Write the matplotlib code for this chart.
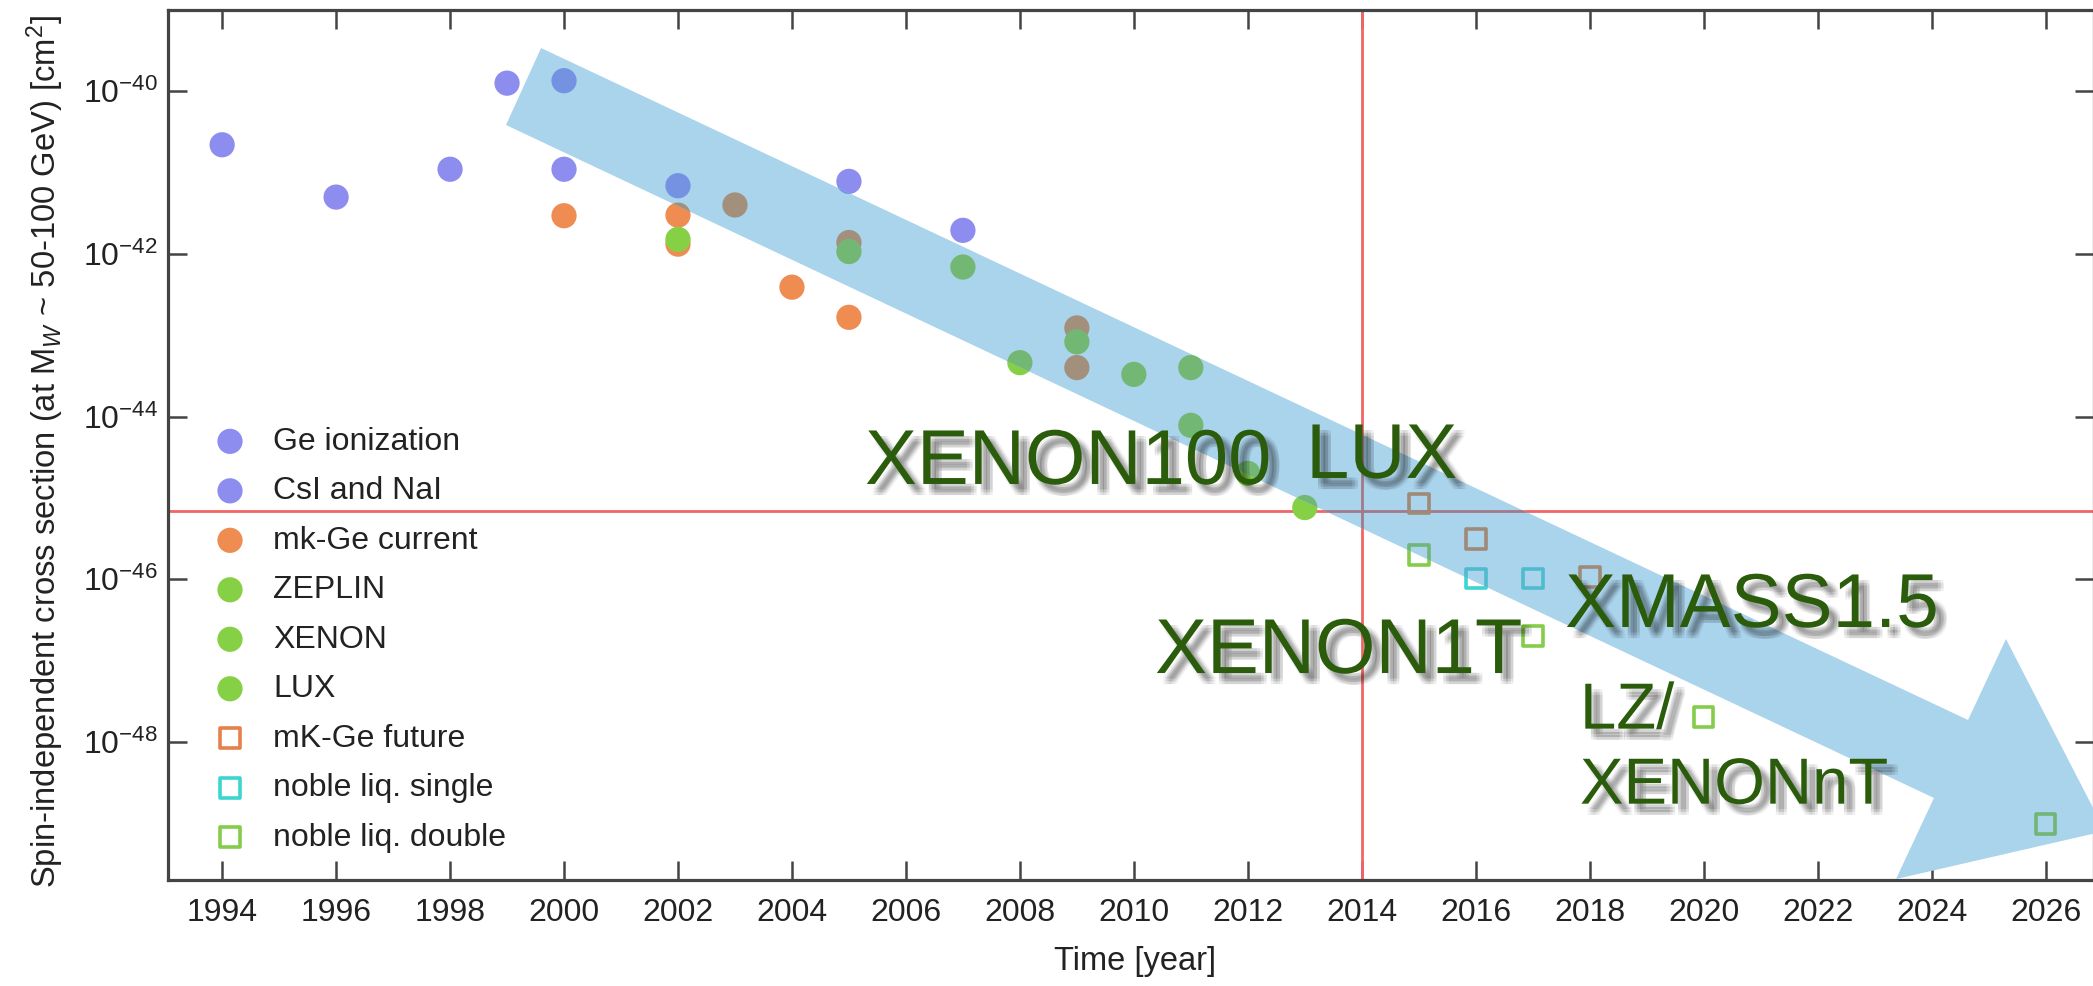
import matplotlib
matplotlib.use('Agg')
import numpy as np
import matplotlib.pyplot as plt
import matplotlib.patheffects as pe
from matplotlib.patches import Polygon
from matplotlib.colors import to_rgb
from matplotlib.ticker import FuncFormatter, NullLocator

plt.rcParams['font.family'] = ['Liberation Sans', 'DejaVu Sans']
plt.rcParams['mathtext.fontset'] = 'custom'
plt.rcParams['mathtext.rm'] = 'Liberation Sans'
plt.rcParams['mathtext.it'] = 'Liberation Sans:italic'
plt.rcParams['mathtext.bf'] = 'Liberation Sans:bold'

# cross sections in cm^2
ge_years = [1994, 1996, 1998, 2000, 2002]
ge_sigma = [2.2e-41, 5.0e-42, 1.1e-41, 1.1e-41, 6.9e-42]
csi_years = [1999, 2000, 2005, 2007]
csi_sigma = [1.26e-40, 1.35e-40, 7.8e-42, 1.95e-42]
mkge_years = [2000, 2002, 2002, 2003, 2004, 2005, 2005, 2009, 2009]
mkge_sigma = [2.95e-42, 3.0e-42, 1.32e-42, 4.0e-42, 3.9e-43, 1.38e-42, 1.66e-43, 1.23e-43, 4.0e-44]
zeplin_years = [2002, 2005, 2007, 2009, 2011]
zeplin_sigma = [1.51e-42, 1.07e-42, 6.9e-43, 8.3e-44, 4.0e-44]
xenon_years = [2008, 2010, 2011, 2012]
xenon_sigma = [4.6e-44, 3.3e-44, 7.8e-45, 2.0e-45]
lux_years = [2013]
lux_sigma = [7.6e-46]
mkge_fut_years = [2015, 2016, 2018]
mkge_fut_sigma = [8.5e-46, 3.1e-46, 1.07e-46]
single_years = [2016, 2017]
single_sigma = [1.02e-46, 1.02e-46]
double_years = [2015, 2017, 2020, 2026]
double_sigma = [2.0e-46, 2.0e-47, 2.0e-48, 9.8e-50]

now_year = 2014
now_sigma = 6.8e-46

labels = ['Ge ionization', 'CsI and NaI', 'mk-Ge current', 'ZEPLIN', 'XENON', 'LUX',
          'mK-Ge future', 'noble liq. single', 'noble liq. double']
colors = ['#8d8df0', '#8d8df0', '#ee8c52', '#86d046', '#86d046', '#86d046',
          '#e8804a', '#3cd6d0', '#84cc4a']
years = [ge_years, csi_years, mkge_years, zeplin_years, xenon_years, lux_years,
         mkge_fut_years, single_years, double_years]
sigmas = [ge_sigma, csi_sigma, mkge_sigma, zeplin_sigma, xenon_sigma, lux_sigma,
          mkge_fut_sigma, single_sigma, double_sigma]
filled = [True] * 6 + [False] * 3

arrow_color = '#aad3ec'


def under_arrow(c):
    # the arrow in the slide tints whatever lies below it
    a = np.array(to_rgb(arrow_color))
    return tuple(0.7 * np.array(to_rgb(c)) * a + 0.3 * a)


fig = plt.figure(figsize=(20.93, 9.86), dpi=100)
ax = fig.add_axes([168 / 2093, 106 / 986, 1926 / 2093, 870 / 986])

ax.set_yscale('log')
ax.set_xlim(1993.05, 2026.85)
ax.set_ylim(10 ** -49.7, 1e-39)

# arrow outline, axes fraction
arrow_pts = [(0.1937, 0.9563), (0.9346, 0.1839), (0.9543, 0.2770), (1.0057, 0.0563),
             (0.8972, 0.0011), (0.9169, 0.0943), (0.1755, 0.8678)]
arrow = Polygon(arrow_pts, closed=True, transform=ax.transAxes,
                facecolor=arrow_color, edgecolor='none', zorder=4)
ax.add_patch(arrow)

for layer in ('plain', 'shaded'):
    z = 3 if layer == 'plain' else 5
    for lab, x, y, c, f in zip(labels, years, sigmas, colors, filled):
        col = c if layer == 'plain' else under_arrow(c)
        if f:
            sc = ax.scatter(x, y, s=330, marker='o', color=col, edgecolors='none',
                            zorder=z, label=lab if layer == 'plain' else None)
        else:
            sc = ax.scatter(x, y, s=200, marker='s', facecolors='none', edgecolors=col,
                            linewidths=2.6, zorder=z, label=lab if layer == 'plain' else None)
        if layer == 'shaded':
            sc.set_clip_path(arrow)
    red = '#f06666' if layer == 'plain' else under_arrow('#f06666')
    vl = ax.axvline(now_year, color=red, lw=2, zorder=z - 0.5)
    hl = ax.axhline(now_sigma, color=red, lw=2, zorder=z - 0.5)
    if layer == 'shaded':
        vl.set_clip_path(arrow)
        hl.set_clip_path(arrow)

ax.set_xticks(range(1994, 2027, 2))
ax.set_yticks([1e-48, 1e-46, 1e-44, 1e-42, 1e-40])
ax.yaxis.set_minor_locator(NullLocator())
ax.yaxis.set_major_formatter(FuncFormatter(lambda v, p: r'$\mathregular{10^{%d}}$' % round(np.log10(v))))
ax.tick_params(which='both', direction='in', top=True, right=True, length=14, width=1.8,
               color='#444444', labelsize=23, labelcolor='#222222')
ax.tick_params(axis='x', pad=13)
ax.tick_params(axis='y', pad=7)
for s in ax.spines.values():
    s.set_linewidth(2.3)
    s.set_color('#444444')

ax.set_xlabel('Time [year]', fontsize=23.5, color='#222222')
ax.xaxis.set_label_coords(0.502, -0.076)
ax.set_ylabel('Spin-independent cross section (at M$_W$ ~ 50-100 GeV) [cm$^2$]',
              fontsize=23.6, color='#222222')
ax.yaxis.set_label_coords(-0.053, 0.4925)

ax.legend(loc='upper left', bbox_to_anchor=(0.0239, 0.521), frameon=False, fontsize=23,
          scatterpoints=1, handlelength=1.0, handletextpad=0.85, labelspacing=0.61,
          borderpad=0, borderaxespad=0, labelcolor='#222222')

shadow = [pe.SimplePatchShadow(offset=(dx, dy), shadow_rgbFace='black', alpha=0.06)
          for dx in (4, 6, 8) for dy in (-4, -6, -8)] + [pe.Normal()]
green = '#2b5c0c'
ax.text(0.3619, 0.4552, 'XENON100', transform=ax.transAxes, fontsize=56, color=green,
        ha='left', va='baseline', zorder=6, path_effects=shadow)
ax.text(0.5909, 0.4621, 'LUX', transform=ax.transAxes, fontsize=56, color=green,
        ha='left', va='baseline', zorder=6, path_effects=shadow)
ax.text(0.5125, 0.2379, 'XENON1T', transform=ax.transAxes, fontsize=56, color=green,
        ha='left', va='baseline', zorder=6, path_effects=shadow)
ax.text(0.7254, 0.2908, 'XMASS1.5', transform=ax.transAxes, fontsize=55, color=green,
        ha='left', va='baseline', zorder=6, path_effects=shadow)
ax.text(0.7331, 0.228, 'LZ/\nXENONnT', transform=ax.transAxes, fontsize=47, color=green,
        ha='left', va='top', linespacing=1.32, zorder=6, path_effects=shadow)

fig.savefig('out.png', dpi=100)
